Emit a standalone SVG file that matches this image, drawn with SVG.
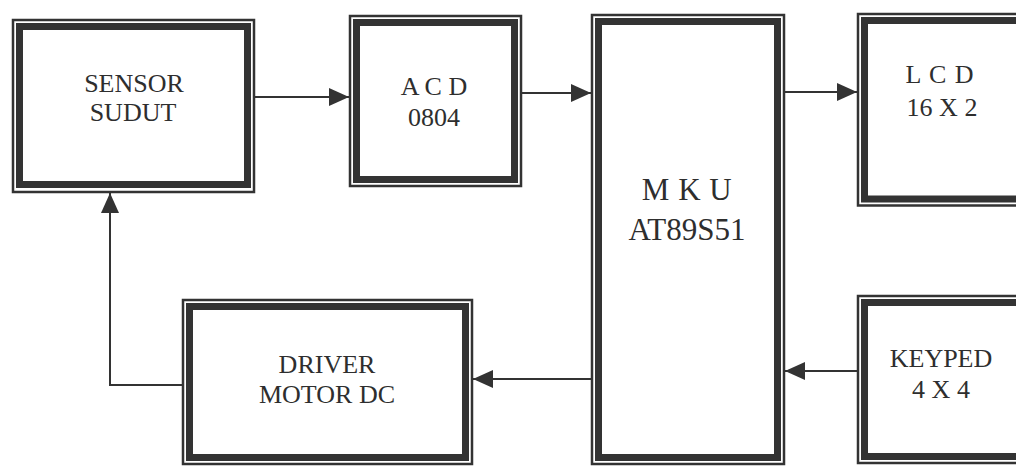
<svg xmlns="http://www.w3.org/2000/svg" width="1016" height="466" viewBox="0 0 1016 466">
<defs>
<style>
.outer{fill:none;stroke:#333;stroke-width:2.5}
.inner{fill:none;stroke:#333;stroke-width:7}
.lbl{font-family:"Liberation Serif","Times New Roman",serif;font-size:26px;fill:#2e2e2e;text-anchor:middle}
.big{font-size:31px}
.conn{fill:none;stroke:#333;stroke-width:2}
</style>
<marker id="ah" viewBox="0 0 20 18" markerWidth="20" markerHeight="18" refX="20" refY="9" orient="auto" markerUnits="userSpaceOnUse">
<path d="M0,0 L20,9 L0,18 Z" fill="#333"/>
</marker>
</defs>
<rect width="1016" height="466" fill="#fff"/>

<g id="sensor">
<rect class="outer" x="13" y="20" width="241" height="172"/>
<rect class="inner" x="19.5" y="26.5" width="228" height="158"/>
<text class="lbl" x="134" y="92">SENSOR</text>
<text class="lbl" x="133" y="121">SUDUT</text>
</g>

<g id="acd">
<rect class="outer" x="350" y="16" width="171" height="170"/>
<rect class="inner" x="356.5" y="22.5" width="158" height="157"/>
<text class="lbl" x="434" y="95">A C D</text>
<text class="lbl" x="434" y="126">0804</text>
</g>

<g id="mku">
<rect class="outer" x="592" y="15" width="192" height="449"/>
<rect class="inner" x="598.5" y="21.5" width="179" height="436"/>
<text class="lbl big" x="687" y="200" letter-spacing="0.5">M K U</text>
<text class="lbl big" x="687" y="240">AT89S51</text>
</g>

<g id="lcd">
<rect class="outer" x="858" y="14" width="172" height="191.5"/>
<rect class="inner" x="864.5" y="20.5" width="159" height="178.5"/>
<text class="lbl" x="940" y="83" letter-spacing="1">L C D</text>
<text class="lbl" x="942" y="116">16 X 2</text>
</g>

<g id="keyped">
<rect class="outer" x="858" y="296" width="172" height="167"/>
<rect class="inner" x="864.5" y="302.5" width="159" height="154"/>
<text class="lbl" x="941" y="367">KEYPED</text>
<text class="lbl" x="941" y="398">4 X 4</text>
</g>

<g id="driver">
<rect class="outer" x="183" y="300" width="289" height="164"/>
<rect class="inner" x="189.5" y="306.5" width="276" height="151"/>
<text class="lbl" x="327" y="373">DRIVER</text>
<text class="lbl" x="327" y="403">MOTOR DC</text>
</g>

<g id="connectors">
<path class="conn" d="M254,97 H349" marker-end="url(#ah)"/>
<path class="conn" d="M521,93 H591" marker-end="url(#ah)"/>
<path class="conn" d="M784,92 H857" marker-end="url(#ah)"/>
<path class="conn" d="M857,371 H785" marker-end="url(#ah)"/>
<path class="conn" d="M591,379 H473" marker-end="url(#ah)"/>
<path class="conn" d="M182,385 H110 V193" marker-end="url(#ah)"/>
</g>
</svg>
